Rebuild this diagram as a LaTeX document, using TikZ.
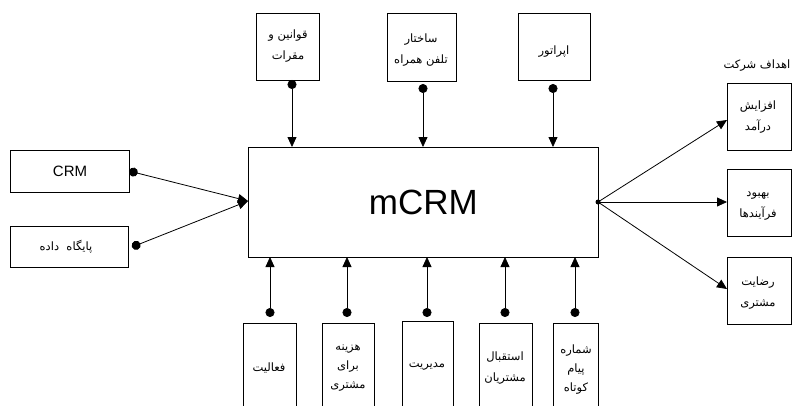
\documentclass[tikz,border=0pt]{standalone}
\usepackage{fontspec}
\setmainfont{Liberation Sans}
\newfontfamily\arabicfont[Script=Arabic]{DejaVu Sans}
\TeXXeTstate=1
\usetikzlibrary{arrows.meta}
\newcommand{\fa}[1]{{\arabicfont\beginR #1\endR}}
\begin{document}
\begin{tikzpicture}[x=1pt,y=-1pt,
  box/.style={draw,line width=0.8pt,inner sep=0pt,anchor=north west},
  lbl/.style={font=\fontsize{11.5}{21}\selectfont,align=center,inner sep=0pt},
  lbls/.style={font=\fontsize{11.5}{19}\selectfont,align=center,inner sep=0pt},
  conn/.style={line width=0.8pt,{Circle[length=9pt]}-{Triangle[length=10pt,width=9pt]}},
  connr/.style={line width=0.8pt,-{Triangle[length=10pt,width=9pt]}}]
\useasboundingbox (0,0) rectangle (793,405);
\clip (0,0) rectangle (793,405);
% main
\node[box,minimum width=350pt,minimum height=110pt] (main) at (248,147) {};
\node[font=\fontsize{35}{40}\selectfont] at (main.center) {mCRM};
% top boxes
\node[box,minimum width=63pt,minimum height=67pt] (t1) at (256,13) {};
\node[box,minimum width=69pt,minimum height=68pt] (t2) at (387,13) {};
\node[box,minimum width=72pt,minimum height=67pt] (t3) at (518,13) {};
\node[lbl] at (288,46) {\fa{قوانین و}\\\fa{مقرات}};
\node[lbl] at (421,50) {\fa{ساختار}\\\fa{تلفن همراه}};
\node[lbl] at (554,52) {\fa{اپراتور}};
\draw[conn] (292,80) -- (292,147);
\draw[conn] (423,84) -- (423,147);
\draw[conn] (553,84) -- (553,147);
% left boxes
\node[box,minimum width=119pt,minimum height=42pt] (l1) at (10,150) {};
\node[box,minimum width=118pt,minimum height=41pt] (l2) at (10,226) {};
\node[font=\fontsize{15}{18}\selectfont] at (70,171) {CRM};
\node[lbl] at (66,247) {\fa{پایگاه\ \ داده}};
\draw[conn] (129,171) -- (248,201);
\draw[conn] (132,247) -- (248,201);
% right boxes
\node[box,minimum width=64pt,minimum height=67pt] (r1) at (727,83) {};
\node[box,minimum width=64pt,minimum height=67pt] (r2) at (727,169) {};
\node[box,minimum width=64pt,minimum height=67pt] (r3) at (727,257) {};
\node[lbl] at (758,117) {\fa{افزایش}\\\fa{درآمد}};
\node[lbl] at (758,206) {\fa{بهبود}\\\fa{فرآیندها}};
\node[lbl] at (758,293) {\fa{رضایت}\\\fa{مشتری}};
\node[lbl] at (757,66) {\fa{اهداف شرکت}};
\node[circle,fill,inner sep=0pt,minimum size=5pt] (o) at (598,202) {};
\draw[connr] (o.center) -- (727,120);
\draw[connr] (o.center) -- (727,202);
\draw[connr] (o.center) -- (727,289);
% bottom boxes
\node[box,minimum width=53pt,minimum height=100pt] (b1) at (243,323) {};
\node[box,minimum width=52pt,minimum height=100pt] (b2) at (322,323) {};
\node[box,minimum width=51pt,minimum height=100pt] (b3) at (402,321) {};
\node[box,minimum width=53pt,minimum height=100pt] (b4) at (479,323) {};
\node[box,minimum width=45pt,minimum height=100pt] (b5) at (553,323) {};
\node[lbl] at (269,368) {\fa{فعالیت}};
\node[lbls] at (348,368) {\fa{هزینه}\\\fa{برای}\\\fa{مشتری}};
\node[lbl] at (427,367) {\fa{مدیریت}};
\node[lbl] at (505,368) {\fa{استقبال}\\\fa{مشتریان}};
\node[lbls] at (576,370) {\fa{شماره}\\\fa{پیام}\\\fa{کوتاه}};
\draw[conn] (270,317) -- (270,257);
\draw[conn] (347,317) -- (347,257);
\draw[conn] (427,317) -- (427,257);
\draw[conn] (505,317) -- (505,257);
\draw[conn] (575,317) -- (575,257);
\end{tikzpicture}
\end{document}
